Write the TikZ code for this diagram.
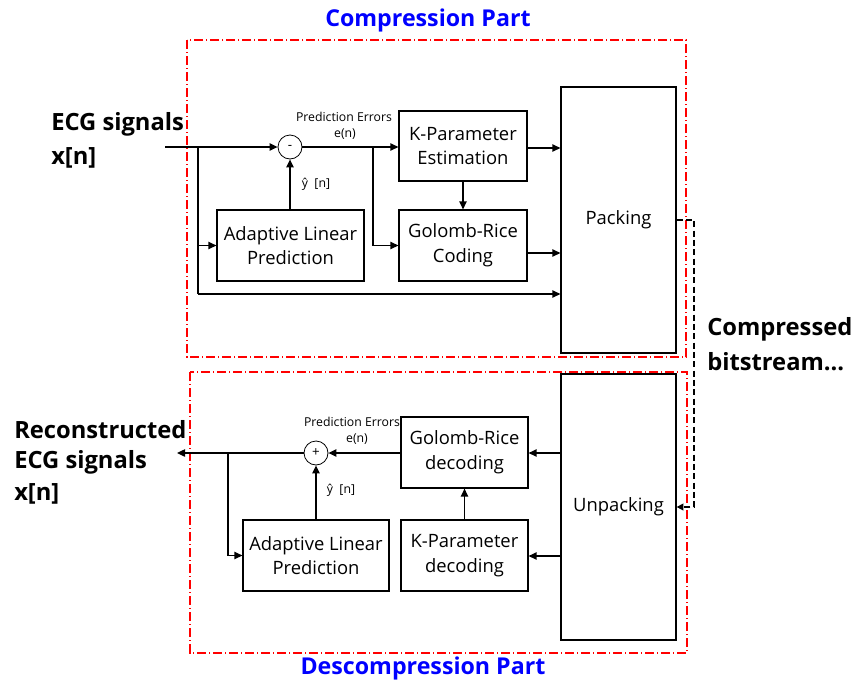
\documentclass[tikz,border=0pt]{standalone}
\usepackage{fontspec}
\setmainfont{Open Sans}
\usetikzlibrary{arrows.meta}
\begin{document}
\begin{tikzpicture}[x=0.75pt,y=-0.75pt,
  blk/.style={draw, line width=0.9pt, align=center, font=\fontsize{13.8}{18.5}\selectfont, inner sep=0pt},
  sumnode/.style={draw, circle, line width=0.6pt, minimum size=18pt, inner sep=0pt, font=\fontsize{10}{12}\selectfont},
  wire/.style={line width=1pt},
  arr/.style={line width=1pt, -{Triangle[length=6pt,width=5.5pt]}},
  small/.style={font=\fontsize{9.2}{11}\selectfont, inner sep=0pt},
  biglbl/.style={font=\fontsize{17.8}{21}\bfseries\selectfont, inner sep=0pt, anchor=west},
  title/.style={font=\fontsize{17.4}{20}\bfseries\selectfont, text=blue, inner sep=0pt},
  frame/.style={red, line width=0.8pt, dash pattern=on 7pt off 2pt on 1pt off 2pt}
]
\useasboundingbox (0,0) rectangle (853,682);

% section frames and titles
\draw[frame] (187,40) rectangle (686,357);
\draw[frame] (190,372) rectangle (687,653);
\node[title] (ttop) at (428,20) {Compression Part};
\node[title] (tbot) at (423,668) {Descompression Part};

% compression blocks
\node[blk, minimum width=110.25pt, minimum height=53.25pt] (alpA) at (290.5,245.5) {Adaptive Linear\\Prediction};
\node[blk, minimum width=96pt, minimum height=52.5pt] (kpe) at (463,146) {K-Parameter\\Estimation};
\node[blk, minimum width=96pt, minimum height=53.25pt] (grc) at (463,245.5) {Golomb-Rice\\Coding};
\node[blk, minimum width=86.25pt, minimum height=199.5pt] (pack) at (618.5,220) {Packing};
\node[sumnode] (minus) at (290,147) {-};

% decompression blocks
\node[blk, minimum width=109.5pt, minimum height=53.25pt] (alpB) at (316,555.5) {Adaptive Linear\\Prediction};
\node[blk, minimum width=95.25pt, minimum height=53.25pt] (grd) at (464.5,452.5) {Golomb-Rice\\decoding};
\node[blk, minimum width=95.25pt, minimum height=53.25pt] (kpd) at (464.5,555.5) {K-Parameter\\decoding};
\node[blk, minimum width=86.25pt, minimum height=199.5pt] (unpack) at (618.5,507) {Unpacking};
\node[sumnode] (plus) at (316,453) {+};

% outer labels
\node[biglbl] (ecgin) at (51,124) {ECG signals};
\node[biglbl] (xin) at (51,158) {x[n]};
\node[biglbl] (rec1) at (14,430) {Reconstructed};
\node[biglbl] (rec2) at (14,462) {ECG signals};
\node[biglbl] (rec3) at (14,494) {x[n]};
\node[biglbl] (cb1) at (707,329) {Compressed};
\node[biglbl] (cb2) at (707,362) {bitstream...};

% small signal labels
\node[small] (peA) at (344,117) {Prediction Errors};
\node[small] (enA) at (345,134) {e(n)};
\node[small] (yA) at (316,184) {ŷ\ \ [n]};
\node[small] (peB) at (352,422) {Prediction Errors};
\node[small] (enB) at (357,439) {e(n)};
\node[small] (yB) at (341,490) {ŷ\ \ [n]};

% compression wiring
\coordinate (src) at (165,147);
\coordinate (jA) at (198,147);
\coordinate (jB) at (198,294);
\coordinate (jE) at (373,147);
\draw[arr] (src) -- (minus.west);
\draw[wire] (jA) -- (jB);
\draw[arr] (jA |- alpA.west) -- (alpA.west);
\draw[arr] (jB) -- (jB -| pack.west);
\draw[arr] (alpA.north -| minus) -- (minus.south);
\draw[arr] (minus.east) -- (minus.east -| kpe.west);
\draw[arr] (jE) |- (grc.west);
\draw[arr] (kpe.south) -- (grc.north);
\draw[arr] (kpe.east |- 0,148) -- (pack.west |- 0,148);
\draw[arr] (grc.east |- 0,253) -- (pack.west |- 0,253);

% decompression wiring
\coordinate (dst) at (177,453);
\coordinate (jC) at (228,453);
\draw[arr] (plus.west) -- (dst);
\draw[arr] (jC) |- (alpB.west);
\draw[arr] (alpB.north -| plus) -- (plus.south);
\draw[arr] (grd.west |- plus) -- (plus.east);
\draw[arr] (kpd.north) -- (grd.south);
\draw[arr] (unpack.west |- 0,453) -- (grd.east |- 0,453);
\draw[arr] (unpack.west |- 0,556) -- (kpd.east |- 0,556);

% bitstream link
\coordinate (bsA) at (694,220);
\coordinate (bsB) at (694,507);
\draw[line width=1pt, dash pattern=on 4.5pt off 2.5pt, -{Triangle[length=5pt,width=5pt]}] (pack.east) -- (bsA) -- (bsB) -- (unpack.east);
\end{tikzpicture}
\end{document}
